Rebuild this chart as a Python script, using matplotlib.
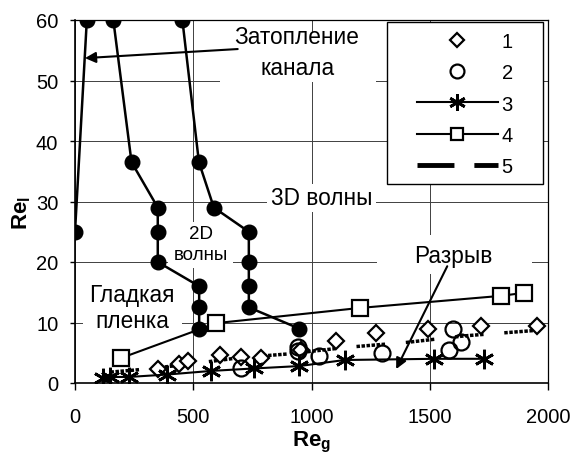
import matplotlib
matplotlib.use("Agg")
import matplotlib.pyplot as plt
from matplotlib.lines import Line2D
from matplotlib.patches import Rectangle

plt.rcParams['font.family'] = ['Liberation Sans', 'DejaVu Sans']
plt.rcParams['mathtext.fontset'] = 'custom'
plt.rcParams['mathtext.rm'] = 'Liberation Sans'
plt.rcParams['mathtext.bf'] = 'Liberation Sans:bold'
plt.rcParams['mathtext.it'] = 'Liberation Sans:italic'

# ---- data ----
# boundary curves (filled circles)
b1_x = [0, 50]
b1_y = [25, 60]
b2_x = [162, 239, 350, 350, 350, 525, 525, 525]
b2_y = [60, 36.5, 29, 25, 20, 16, 12.5, 9]
b3_x = [454, 524, 587, 735, 735, 735, 735, 948]
b3_y = [60, 36.5, 29, 25, 20, 16, 12.5, 9]

s1_x = [350, 440, 478, 612, 700, 785, 955, 1104, 1273, 1491, 1716, 1952]
s1_y = [2.3, 3.1, 3.7, 4.7, 4.3, 4.2, 5.5, 7.0, 8.2, 8.9, 9.4, 9.5]

s2_x = [700, 945, 945, 1030, 1300, 1580, 1632, 1598]
s2_y = [2.4, 5.9, 5.3, 4.5, 4.9, 5.5, 6.8, 9.0]

s3_x = [120, 148, 228, 390, 577, 755, 948, 1140, 1520, 1730]
s3_y = [0.9, 1.0, 1.0, 1.4, 2.0, 2.4, 2.8, 3.8, 4.0, 4.0]

s4_x = [193, 598, 1203, 1800, 1899]
s4_y = [4.1, 9.9, 12.4, 14.4, 14.9]

s5_x = [150, 300, 500, 700, 900, 1150, 1400, 1650, 1950]
s5_y = [1.8, 2.3, 3.2, 4.2, 4.8, 5.9, 6.7, 7.8, 8.7]

labels = ['1', '2', '3', '4', '5']
x_ticks = [0, 500, 1000, 1500, 2000]
y_ticks = [0, 10, 20, 30, 40, 50, 60]

fig = plt.figure(figsize=(5.73, 4.56), dpi=100)
ax = fig.add_axes([75/573, 1-384/456, 473/573, 363/456])
ax.set_xlim(0, 2000)
ax.set_ylim(0, 60)
ax.set_xticks(x_ticks)
ax.set_yticks(y_ticks)
ax.set_axisbelow(True)
ax.grid(True, color='#404040', lw=0.7)
for s in ax.spines.values():
    s.set_color('black')
    s.set_linewidth(0.9)
ax.spines['bottom'].set_linewidth(1.2)
ax.spines['left'].set_linewidth(1.2)
ax.tick_params(axis='x', length=5, width=1, pad=12, labelsize=14.5)
ax.tick_params(axis='y', length=3.6, width=1, pad=8.4, labelsize=14.5)

# white masks behind labels (hide grid)
for (x0, x1, y0, y1) in [(613, 1273, 49.7, 58.0), (812, 1273, 28.3, 32.9),
                         (393, 668, 19.0, 26.6), (34, 452, 8.3, 16.4),
                         (1277, 1932, 18.0, 24.5)]:
    ax.add_patch(Rectangle((x0, y0), x1-x0, y1-y0, fc='white', ec='none', zorder=1))

kw_b = dict(color='black', lw=1.8, marker='o', ms=10.5, mfc='black', mec='black', zorder=3)
ax.plot(b1_x, b1_y, **kw_b)
ax.plot(b2_x, b2_y, **kw_b)
ax.plot(b3_x, b3_y, **kw_b)

dash5 = (0, tuple(list((1.0, 0.45) * 6)[:-1] + [6.0]))
ax.plot(s5_x, s5_y, color='black', lw=2.5, linestyle=dash5, zorder=2.5)
ax.plot(s1_x, s1_y, ls='none', marker='D', ms=8, mfc='white', mec='black', mew=1.6, zorder=4)
ax.plot(s2_x, s2_y, ls='none', marker='o', ms=11.5, mfc='none', mec='black', mew=1.6, zorder=4)
ax.plot(s3_x, s3_y, color='black', lw=1.5, marker=(6, 2, 0), ms=14, mec='black', mew=2.0, zorder=4)
ax.plot(s4_x, s4_y, color='black', lw=1.5, marker='s', ms=12, mfc='white', mec='black', mew=1.6, zorder=4)

fs = 16.3
ax.text(939, 54.7, 'Затопление\nканала', ha='center', va='center', fontsize=fs,
        linespacing=1.45, zorder=5)
ax.text(1042, 30.6, '3D волны', ha='center', va='center', fontsize=fs, zorder=5)
ax.text(533, 23.0, '2D\nволны', ha='center', va='center', fontsize=13.5, linespacing=1.35, zorder=5)
ax.text(241, 12.5, 'Гладкая\nпленка', ha='center', va='center', fontsize=fs,
        linespacing=1.2, zorder=5)
ax.text(1598, 21.0, 'Разрыв', ha='center', va='center', fontsize=fs, zorder=5)

arrow = dict(arrowstyle='-|>', color='black', lw=1.5, mutation_scale=16, shrinkA=0, shrinkB=0)
ax.annotate('', xy=(42, 53.7), xytext=(688, 55.2), arrowprops=arrow, zorder=5)
ax.annotate('', xy=(1358, 2.3), xytext=(1574, 19.3), arrowprops=arrow, zorder=5)

# legend frame
ax.add_patch(Rectangle((0.660, 0.548), 0.329, 0.4465, transform=ax.transAxes,
                       fc='white', ec='black', lw=1.0, zorder=5.5))
handles = [
    Line2D([], [], ls='none', marker='D', ms=7, mfc='white', mec='black', mew=1.6),
    Line2D([], [], ls='none', marker='o', ms=10, mfc='none', mec='black', mew=1.6),
    Line2D([], [], color='black', lw=1.5, marker=(6, 2, 0), ms=12, mew=2.0),
    Line2D([], [], color='black', lw=1.5, marker='s', ms=9, mfc='white', mec='black', mew=1.6),
    Line2D([], [], color='black', lw=3.5, ls=(0, (7.6, 4.1))),
]
leg = ax.legend(handles, labels, loc='upper left', bbox_to_anchor=(0.723, 0.966),
                fontsize=14.5, numpoints=1, handlelength=4.0, handletextpad=0.2,
                labelspacing=0.6, borderpad=0, frameon=False, borderaxespad=0)
leg.set_zorder(6)

ax.set_xlabel(r'$\mathbf{Re}_\mathbf{g}$', fontsize=16, labelpad=2.5)
ax.set_ylabel(r'$\mathbf{Re}_\mathbf{l}$', fontsize=16)
ax.yaxis.set_label_coords(-0.088, 0.47)

fig.savefig('out.png', dpi=100)
